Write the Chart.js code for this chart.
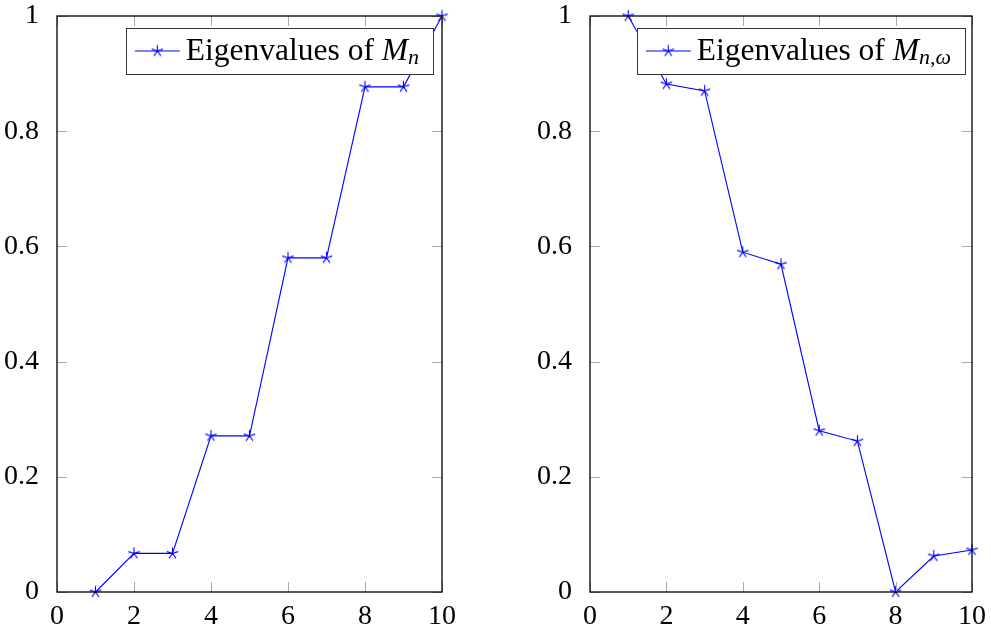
<!DOCTYPE html>
<html>
<head>
<meta charset="utf-8">
<script src="https://cdn.jsdelivr.net/npm/chart.js@4/dist/chart.umd.min.js"></script>
<style>
  body { margin: 0; background: #fff; }
  #wrap { position: relative; width: 991px; height: 627px; }
  .box { position: absolute; top: 0; height: 627px; }
</style>
</head>
<body>
<div id="wrap">
  <div class="box" style="left:0;width:495px"><canvas id="left"></canvas></div>
  <div class="box" style="left:495px;width:496px"><canvas id="right"></canvas></div>
</div>
<script>
const indices = [1, 2, 3, 4, 5, 6, 7, 8, 9, 10];
const eigM = [0, 0.067, 0.067, 0.271, 0.271, 0.58, 0.58, 0.877, 0.877, 1];
const eigMw = [1, 0.882, 0.870, 0.590, 0.569, 0.280, 0.262, 0, 0.0625, 0.073];
const xTicks = [0, 2, 4, 6, 8, 10];
const yTicks = [0, 0.2, 0.4, 0.6, 0.8, 1];

const FONT = '"Liberation Serif", "DejaVu Serif", serif';
const BLUE = "#0000ff";

// pgfplots style "star" mark
function starMark() {
  const c = document.createElement("canvas");
  c.width = 15;
  c.height = 15;
  const g = c.getContext("2d");
  g.strokeStyle = BLUE;
  g.lineWidth = 1.1;
  g.beginPath();
  for (let k = 0; k < 5; k++) {
    const a = -Math.PI / 2 + (k * 2 * Math.PI) / 5;
    g.moveTo(7.5, 7.5);
    g.lineTo(7.5 + 6 * Math.cos(a), 7.5 + 6 * Math.sin(a));
  }
  g.stroke();
  return c;
}
const STAR = starMark();

// axis box, inward ticks on all four sides, and the legend box
const frame = {
  id: "frame",
  afterDraw(chart, args, opts) {
    const ctx = chart.ctx;
    const a = chart.chartArea;
    const xs = chart.scales.x;
    const ys = chart.scales.y;
    ctx.save();
    ctx.strokeStyle = "#aaaaaa";
    ctx.lineWidth = 1;
    ctx.beginPath();
    for (const t of xTicks) {
      const px = Math.round(xs.getPixelForValue(t)) + 0.5;
      ctx.moveTo(px, a.bottom);
      ctx.lineTo(px, a.bottom - 10);
      ctx.moveTo(px, a.top);
      ctx.lineTo(px, a.top + 10);
    }
    for (const t of yTicks) {
      const py = Math.round(ys.getPixelForValue(t)) + 0.5;
      ctx.moveTo(a.left, py);
      ctx.lineTo(a.left + 10, py);
      ctx.moveTo(a.right, py);
      ctx.lineTo(a.right - 10, py);
    }
    ctx.stroke();
    ctx.strokeStyle = "#000";
    ctx.lineWidth = 1.3;
    ctx.strokeRect(a.left, a.top, a.right - a.left, a.bottom - a.top);

    // legend
    const main = "31.5px " + FONT;
    const ital = "italic 31.5px " + FONT;
    const sub = "italic 22px " + FONT;
    ctx.font = main;
    const w1 = ctx.measureText("Eigenvalues of ").width;
    ctx.font = ital;
    const w2 = ctx.measureText("M").width;
    ctx.font = sub;
    const w3 = ctx.measureText(opts.sub).width;
    const boxW = 60 + w1 + w2 + w3 + 14;
    const boxH = 46;
    const bx = a.right - opts.gap - boxW;
    const by = a.top + 12;
    ctx.fillStyle = "#fff";
    ctx.fillRect(bx, by, boxW, boxH);
    ctx.strokeStyle = "#333";
    ctx.lineWidth = 1;
    ctx.strokeRect(Math.round(bx) + 0.5, by + 0.5, Math.round(boxW), boxH);
    const cy = by + boxH / 2;
    ctx.strokeStyle = BLUE;
    ctx.beginPath();
    ctx.moveTo(bx + 9, cy);
    ctx.lineTo(bx + 54, cy);
    ctx.stroke();
    ctx.drawImage(STAR, bx + 31.5 - 7.5, cy - 7.5);
    ctx.fillStyle = "#000";
    ctx.textBaseline = "alphabetic";
    let tx = bx + 60;
    const base = cy + 9;
    ctx.font = main;
    ctx.fillText("Eigenvalues of ", tx, base);
    tx += w1;
    ctx.font = ital;
    ctx.fillText("M", tx, base);
    tx += w2;
    ctx.font = sub;
    ctx.fillText(opts.sub, tx, base + 4);
    ctx.restore();
  },
};

function makeChart(id, data, yAxisWidth, padRight, sub, gap) {
  return new Chart(document.getElementById(id), {
    type: "line",
    data: {
      datasets: [
        {
          data: indices.map((x, i) => ({ x: x, y: data[i] })),
          borderColor: BLUE,
          borderWidth: 1.1,
          backgroundColor: BLUE,
          pointStyle: STAR,
          pointRadius: 7,
          tension: 0,
          clip: 8,
        },
      ],
    },
    options: {
      responsive: true,
      maintainAspectRatio: false,
      animation: false,
      events: [],
      layout: { padding: { top: 16, right: padRight, left: 0, bottom: 0 } },
      plugins: { legend: { display: false }, tooltip: { enabled: false }, frame: { sub: sub, gap: gap } },
      scales: {
        x: {
          type: "linear",
          min: 0,
          max: 10,
          afterBuildTicks: (s) => { s.ticks = xTicks.map((v) => ({ value: v })); },
          afterFit: (s) => {
            s.height = 35;
            s.paddingLeft = 0;
            s.paddingRight = 0;
          },
          grid: { display: false },
          border: { display: false },
          ticks: { color: "#000", font: { family: FONT, size: 28 }, padding: 0, maxRotation: 0 },
        },
        y: {
          type: "linear",
          min: 0,
          max: 1,
          afterBuildTicks: (s) => { s.ticks = yTicks.map((v) => ({ value: v })); },
          afterFit: (s) => {
            s.width = yAxisWidth;
            s.paddingTop = 0;
            s.paddingBottom = 0;
          },
          grid: { display: false },
          border: { display: false },
          ticks: {
            color: "#000",
            font: { family: FONT, size: 28 },
            padding: 10,
            callback: (v) => String(Math.round(v * 10) / 10),
          },
        },
      },
    },
    plugins: [frame],
  });
}

makeChart("left", eigM, 57, 53, "n", 9);
makeChart("right", eigMw, 95, 19, "n,ω", 7);
</script>
</body>
</html>
